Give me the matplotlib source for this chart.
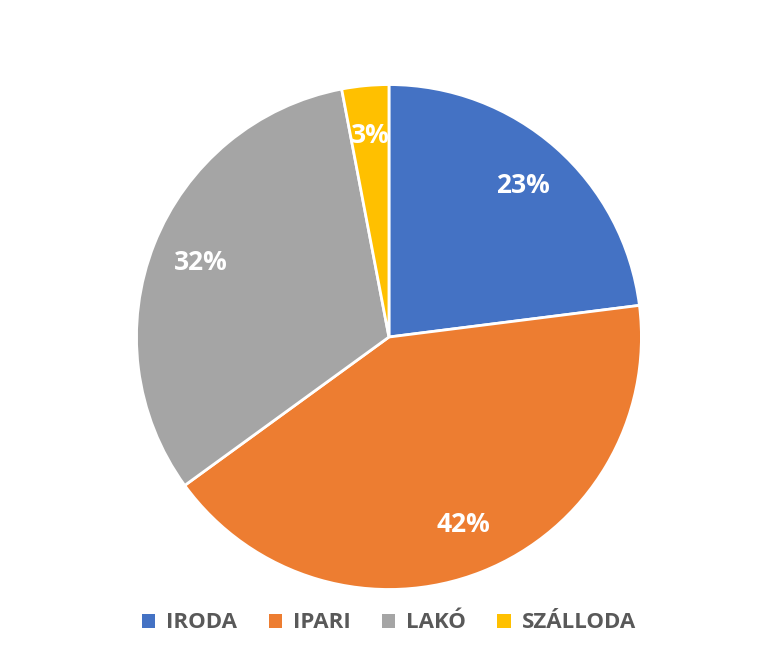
import matplotlib
matplotlib.use("Agg")
import matplotlib.pyplot as plt
from matplotlib.patches import Patch

categories = ["IRODA", "IPARI", "LAKÓ", "SZÁLLODA"]
values = [23, 42, 32, 3]
colors = ["#4472C4", "#ED7D31", "#A5A5A5", "#FFC000"]

plt.rcParams["font.family"] = ["Open Sans", "DejaVu Sans"]
fig = plt.figure(figsize=(7.78, 6.62), dpi=100)
ax = fig.add_axes([0.1722, 0.1057, 0.6555, 0.7704])
wedges, texts, autotexts = ax.pie(values, colors=colors, startangle=90, counterclock=False,
                                  autopct="%d%%", pctdistance=0.8,
                                  wedgeprops=dict(edgecolor="white", linewidth=2))
for t in autotexts:
    t.set_color("white")
    t.set_fontsize(19)
    t.set_fontweight("bold")
ax.set_xlim(-1.01, 1.01)
ax.set_ylim(-1.01, 1.01)
ax.set_aspect("equal")

handles = [Patch(facecolor=c) for c in colors]
fig.legend(handles, categories, loc="center", bbox_to_anchor=(0.5, 0.059), ncol=4,
           frameon=False, handlelength=0.6, handleheight=0.6, columnspacing=1.4,
           handletextpad=0.5, prop=dict(size=16, weight="bold"), labelcolor="#595959")
fig.savefig("out.png")
